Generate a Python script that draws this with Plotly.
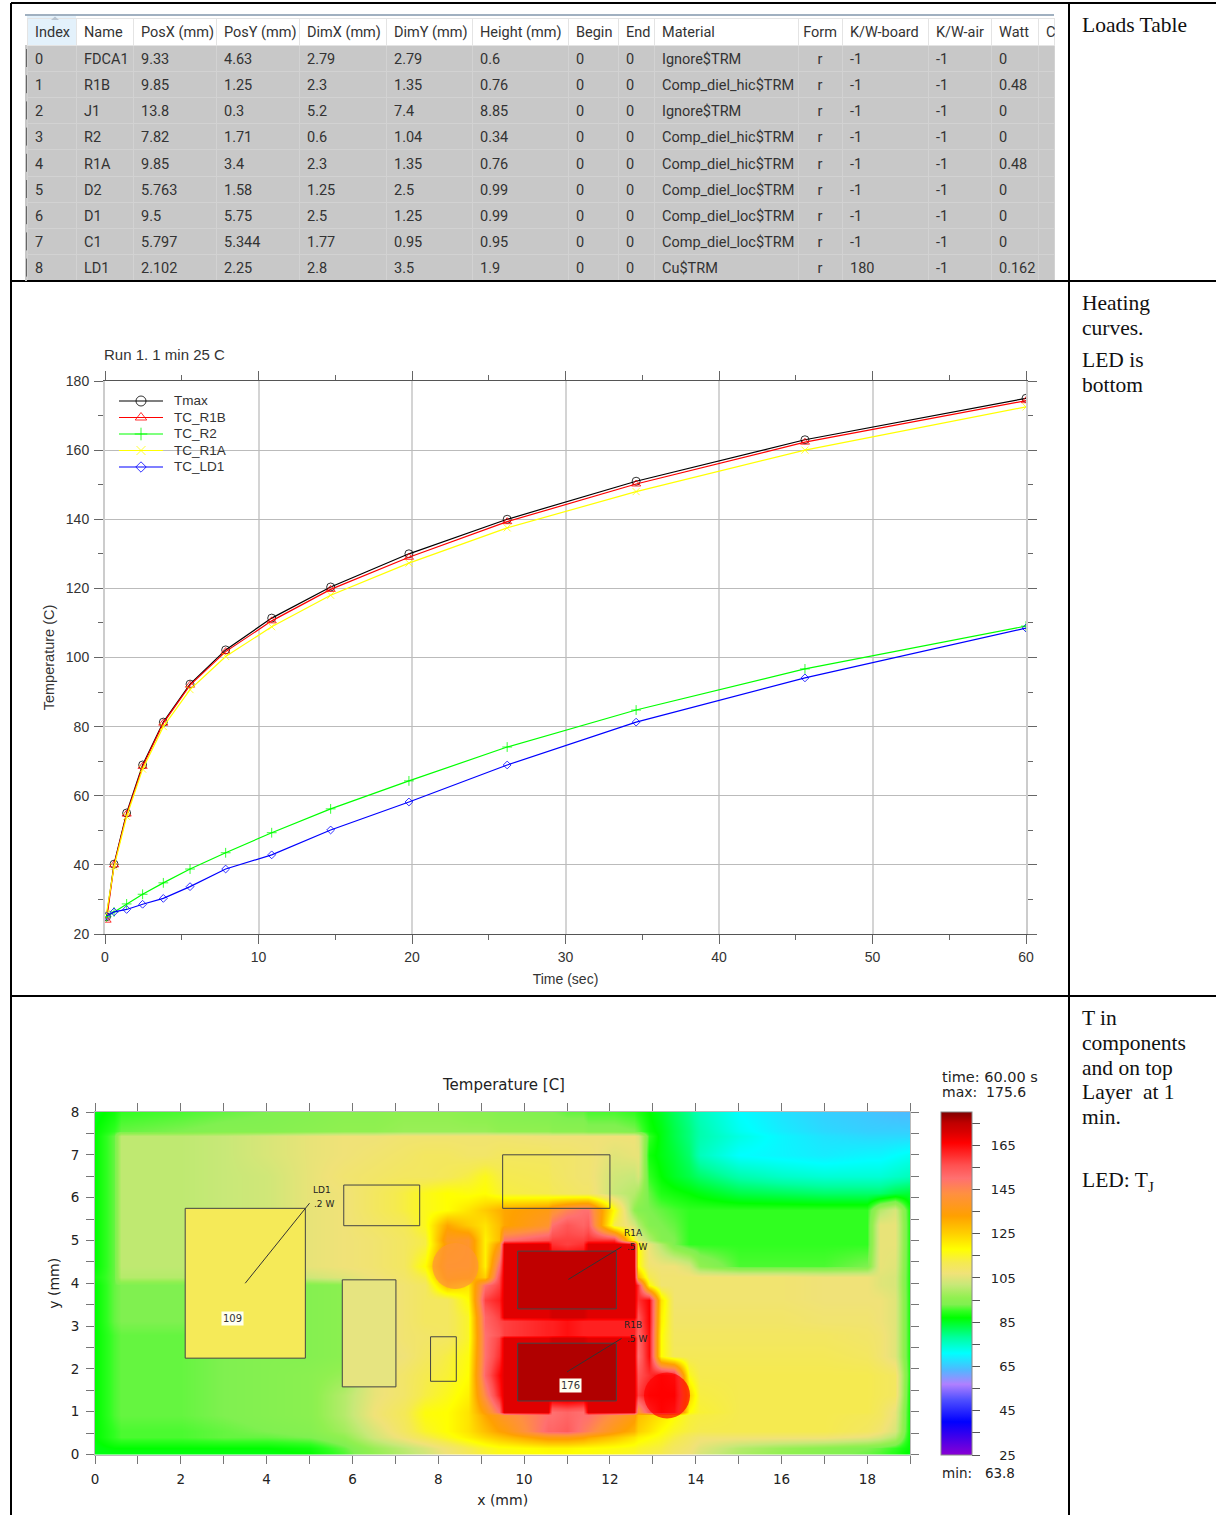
import plotly.graph_objects as go

W, H = 1216, 1515
SANS = "Liberation Sans"
WIDE = "DejaVu Sans"
SERIF = "Liberation Serif"
UI = "Roboto"

INDEX = [0, 1, 2, 3, 4, 5, 6, 7, 8]
NAME = ["FDCA1", "R1B", "J1", "R2", "R1A", "D2", "D1", "C1", "LD1"]
POSX = [9.33, 9.85, 13.8, 7.82, 9.85, 5.763, 9.5, 5.797, 2.102]
POSY = [4.63, 1.25, 0.3, 1.71, 3.4, 1.58, 5.75, 5.344, 2.25]
DIMX = [2.79, 2.3, 5.2, 0.6, 2.3, 1.25, 2.5, 1.77, 2.8]
DIMY = [2.79, 1.35, 7.4, 1.04, 1.35, 2.5, 1.25, 0.95, 3.5]
HEIGHT = [0.6, 0.76, 8.85, 0.34, 0.76, 0.99, 0.99, 0.95, 1.9]
BEGIN = [0] * 9
END = [0] * 9
MATERIAL = ["Ignore$TRM", "Comp_diel_hic$TRM", "Ignore$TRM", "Comp_diel_hic$TRM", "Comp_diel_hic$TRM",
            "Comp_diel_loc$TRM", "Comp_diel_loc$TRM", "Comp_diel_loc$TRM", "Cu$TRM"]
FORM = ["r"] * 9
KW_BOARD = [-1, -1, -1, -1, -1, -1, -1, -1, 180]
KW_AIR = [-1] * 9
WATT = [0, 0.48, 0, 0, 0.48, 0, 0, 0, 0.162]
HEADERS = ["Index", "Name", "PosX\u00a0(mm)", "PosY\u00a0(mm)", "DimX\u00a0(mm)", "DimY\u00a0(mm)", "Height\u00a0(mm)", "Begin", "End",
           "Material", "Form", "K/W-board", "K/W-air", "Watt", "C"]
COL_EDGES = [27, 76, 133, 216, 299, 386, 472, 568, 618, 654, 798, 842, 928, 991, 1038, 1054]

TIME = [0.1, 0.59, 1.41, 2.45, 3.8, 5.54, 7.86, 10.86, 14.7, 19.8, 26.2, 34.6, 45.6, 60.0]
TMAX = [25, 40.2, 55, 68.9, 81.3, 92.3, 102.2, 111.4, 120.4, 130, 140, 151, 163, 175]
TC_R1B = [24, 40, 54.7, 68.5, 81, 92, 101.7, 110.6, 119.7, 129, 139.3, 150.2, 162.3, 174.3]
TC_R2 = [25, 26.4, 28.7, 31.5, 34.8, 38.8, 43.5, 49.3, 56.2, 64.3, 74.1, 84.8, 96.7, 109.1]
TC_R1A = [26, 39.5, 54, 67.7, 80, 90.7, 100.3, 108.9, 118, 127.3, 137.5, 148, 160, 172.5]
TC_LD1 = [25.2, 26.4, 27.1, 28.6, 30.3, 33.7, 38.8, 42.9, 50.1, 58.2, 68.9, 81.3, 94.1, 108.5]

X_MM = [0, .45, .6, 2, 3, 4, 5, 5.8, 6.5, 7.2, 7.7, 8.2, 8.7, 9.1, 9.42, 9.52, 10.55, 10.65, 11, 11.38, 11.48, 12.1,
        12.55, 12.65, 12.9, 13.2, 13.5, 13.85, 14.1, 15, 16, 17, 18, 18.3, 18.65, 19]
Y_MM = [8, 7.55, 7.45, 7, 6.5, 6.1, 5.7, 5.35, 5, 4.92, 4.4, 4.15, 3.95, 3.6, 3.22, 3.12, 2.78, 2.72, 2.3, 1.85, 1.4,
        1.0, 0.92, 0.55, 0.4, 0.15, 0]
Z_TEMP = [
    [86,88,90,91,92,93,94,95,95,96,96,96,95,95,94,94,93,93,92,92,91,91,90,89,87,85,82,79,76,71,68,66,65,64.5,64,63.8],
    [87,90,92,93,94,94,95,96,96,97,97,97,97,97,96,96,96,95,95,95,94,94,93,92,88,86,83,80,77,72,69,67,66,66,66,66],
    [87,92,101,101,102,104,106,107,107,108,108,108,108,108,108,108,107,107,107,107,107,107,107,105,90,86,83,80,77,73,70,68,67,67,67,67],
    [87,92,101,101,102,104,106,107,108,109,110,110,109,109,110,110,110,109,109,108,108,105,106,106,88,86,84,81,76,71,70,69,70,70,71,72],
    [87,92,101,101,102,103,106,108,109,110,110,111,113,116,113,112,111,110,109,108,108,103,102,104,90,87,85,83,81,77,75,74,74,74,75,76],
    [87,92,101,101,102,103,106,107,110,113,116,118,117,118,115,113,112,111,110,109,109,102,100,98,92,89,88,87,86,83,82,81,81,81,83,84],
    [87,92,101,101,102,103,106,107,110,113,116,118,122,126,130,132,136,140,146,150,150,118,96,94,93,92,91,90,90,90,90,90,90,100,104,88],
    [87,92,101,101,102,103,106,107,109,111,116,132,126,122,128,132,140,150,155,152,154,112,104,100,94,93,92,90,90,90,90,90,90,106,106,88],
    [87,92,101,101,102,103,106,107,108,110,113,138,140,120,128,150,156,158,158,158,160,160,115,106,100,94,93,90,90,90,90,90,90,106,106,88],
    [87,92,101,101,102,103,106,107,108,110,113,136,140,120,135,170,170,160,158,160,170,170,170,118,106,100,93,90,90,90,90,90,90,106,106,88],
    [87,92,101,101,102,103,106,107,108,110,118,140,140,120,150,170,170,172,172,172,170,170,170,118,108,107,107,104,96,91,91,91,93,106,105,88],
    [88,92,100,100,102,102,103,105,107,109,113,136,134,125,156,170,170,172,172,172,170,170,170,130,112,108,108,108,108,108,108,107,107,105,104,88],
    [87,92,93,93,93,94,94,95,106,108,110,128,122,150,158,170,170,172,172,172,170,170,170,160,118,108,108,108,108,108,108,107,107,105,104,88],
    [87,92,93,93,93,94,94,95,105,108,110,110,118,158,162,170,170,172,172,172,170,170,170,160,166,122,108,108,108,108,108,107,107,107,105,88],
    [87,92,93,93,93,94,94,95,105,108,110,110,115,152,158,170,170,172,172,172,170,170,170,155,166,120,109,109,109,109,109,108,108,107,105,88],
    [87,92,93,93,93,94,94,95,105,108,110,110,115,152,157,158,162,162,164,162,162,162,162,155,166,120,109,109,109,109,109,108,108,107,105,88],
    [87,91,92,92,93,94,94,95,105,108,109,110,115,150,155,158,162,162,164,162,162,162,162,152,165,118,110,110,110,110,110,110,109,108,105,88],
    [87,91,92,92,93,94,94,95,105,108,109,110,115,150,158,170,170,172,172,172,170,170,170,152,165,118,110,110,110,110,110,110,109,108,105,88],
    [87,91,92,92,93,94,94,95,105,107,110,113,117,150,160,170,170,173,174,173,170,170,170,150,165,118,111,111,111,111,111,111,110,108,105,88],
    [87,91,92,92,93,94,95,97,106,109,112,114,118,152,165,170,170,173,174,173,170,170,170,155,160,165,162,116,112,112,112,112,112,111,110,88],
    [87,91,92,92,93,94,95,100,106,109,113,116,120,145,162,170,170,173,174,173,170,170,170,158,165,166,166,125,113,112,112,112,112,111,110,87],
    [87,91,92,92,93,94,95,100,107,111,117,118,122,135,150,170,170,150,152,150,170,170,170,140,155,165,160,118,114,112,112,112,112,110,106,87],
    [87,91,92,92,93,94,95,100,107,111,117,118,122,132,138,140,150,150,152,150,150,142,135,128,125,122,118,114,113,112,112,112,111,110,106,87],
    [87,90,91,91,92,93,94,98,104,110,115,118,122,128,133,134,152,152,154,148,146,136,130,125,122,118,115,113,112,112,112,112,110,108,104,87],
    [87,90,91,91,92,92,93,96,103,108,112,116,120,124,127,128,136,136,136,134,132,127,122,120,118,116,113,110,108,108,108,108,106,104,100,87],
    [86,87,87,87,87,87,88,92,97,101,104,108,112,115,117,117,119,119,119,118,118,117,116,115,114,113,110,108,105,100,97,95,93,92,90,87],
    [86,86,86,86,86,86,87,91,96,100,103,107,111,114,116,116,118,118,118,117,117,116,115,114,113,112,109,107,104,99,96,94,92,91,89,86],
]
assert all(len(r) == len(X_MM) for r in Z_TEMP) and len(Z_TEMP) == len(Y_MM), [len(r) for r in Z_TEMP]

CB_TEMPS = [25, 40, 50, 57, 63.5, 71, 78, 87, 90, 93, 96, 102, 107, 112, 118, 125, 133, 143, 150, 156, 162, 166, 171, 175, 180]
CB_COLORS = ["#8a00d4", "#0000ff", "#5050ff", "#b080ff", "#50b8ff", "#00ffff", "#00ffa0", "#00ff00", "#30ff20", "#80f050",
             "#90f050", "#c8e878", "#f0e278", "#f5ea50", "#ffff00", "#ffd000", "#ffa000", "#ff9040", "#ff7070", "#ff5050",
             "#ff2020", "#ff0000", "#d80000", "#c00000", "#800000"]
CB_VALS = [25, 35, 45, 55, 65, 75, 85, 95, 105, 115, 125, 135, 145, 155, 165, 175]
CB_TEXT = ["25", "", "45", "", "65", "", "85", "", "105", "", "125", "", "145", "", "165", ""]

RECT_FILL = {"LD1": "#f5ea58", "D2": "#e6e480", "C1": None, "R2": None, "D1": None, "R1A": "#c00000", "R1B": "#b00000"}
CALLOUTS = [("LD1", [3.5, 5.0], [4.0, 5.87]), ("R1A", [11.03, 12.27], [4.09, 4.85]), ("R1B", [11.0, 12.27], [1.93, 2.71])]
# round hot spots of the map: via on the right of R1B, and the orange blob left of R1A
SPOT_X = [13.33, 8.4]
SPOT_Y = [1.38, 4.4]
SPOT_COLOR = ["#ff0000", "#ff9438"]
SPOT_SIZE = [46, 46]


def px(v):
    return v / W


def py(v):
    return 1 - v / H


fig = go.Figure()

cols = [INDEX, NAME, POSX, POSY, DIMX, DIMY, HEIGHT, BEGIN, END, MATERIAL, FORM, KW_BOARD, KW_AIR, WATT, [""] * 9]
widths = [b - a for a, b in zip(COL_EDGES, COL_EDGES[1:])]
hdr_fill = ["#e3f1fb"] + ["#ffffff"] * 14
aligns = ["left"] * 10 + ["center"] + ["left"] * 4
fig.add_trace(go.Table(
    domain=dict(x=[px(COL_EDGES[0]), px(COL_EDGES[-1])], y=[py(282), py(18)]),
    columnwidth=widths,
    columnorder=list(range(15)),
    header=dict(values=HEADERS, height=27, align=aligns, fill_color=hdr_fill,
                line=dict(color="#e4e4e4", width=1), font=dict(family=UI, size=14.5, color="#333333")),
    cells=dict(values=[[str(v) for v in c] for c in cols], height=26.2, align=aligns,
               fill_color="#c8c8c8", line=dict(color="#d2d2d2", width=1),
               font=dict(family=UI, size=14.5, color="#333333")),
))

SERIES = [("Tmax", TMAX, "#000000", "circle-open", 8), ("TC_R1B", TC_R1B, "#ff0000", "triangle-up-open", 8),
          ("TC_R2", TC_R2, "#00ff00", "cross-thin-open", 7), ("TC_R1A", TC_R1A, "#ffff00", "x-thin-open", 7),
          ("TC_LD1", TC_LD1, "#0000ff", "diamond-open", 6)]
for name, ys, color, sym, size in SERIES:
    fig.add_trace(go.Scatter(x=TIME, y=ys, name=name, mode="lines+markers", xaxis="x", yaxis="y", showlegend=False,
                             line=dict(color=color, width=1.2),
                             marker=dict(symbol=sym, size=size, color=color, line=dict(color=color, width=0.8))))

for i, (name, ys, color, sym, size) in enumerate(SERIES):
    yy = 401 + i * 16.5
    fig.add_trace(go.Scatter(x=[119, 141, 163], y=[yy] * 3, mode="lines", xaxis="x3", yaxis="y3", showlegend=False,
                             hoverinfo="skip", line=dict(color=color, width=1.2)))
    fig.add_trace(go.Scatter(x=[141], y=[yy], mode="markers", xaxis="x3", yaxis="y3", showlegend=False,
                             hoverinfo="skip", marker=dict(symbol=sym, size=size + 2, color=color, line=dict(color=color, width=0.8))))

fig.add_trace(go.Heatmap(
    x=X_MM, y=Y_MM[::-1], z=Z_TEMP[::-1], xaxis="x2", yaxis="y2", zsmooth="best", zmin=25, zmax=180,
    colorscale=[[(t - 25) / 155, c] for t, c in zip(CB_TEMPS, CB_COLORS)],
    colorbar=dict(x=px(941), xanchor="left", xpad=0, y=py(1455), yanchor="bottom", ypad=0, thicknessmode="pixels",
                  thickness=31, lenmode="pixels", len=343, tickmode="array", tickvals=CB_VALS,
                  ticktext=[("\u2007" * (4 - len(t)) + t if t else t) for t in CB_TEXT], ticks="outside", ticklen=8,
                  tickcolor="#555555", outlinecolor="#888888", outlinewidth=1,
                  tickfont=dict(family=WIDE, size=13, color="#222222")),
))
fig.add_trace(go.Scatter(x=SPOT_X, y=SPOT_Y, mode="markers", xaxis="x2", yaxis="y2", showlegend=False, hoverinfo="skip",
                         marker=dict(size=SPOT_SIZE, color=SPOT_COLOR, line=dict(width=0))))
for name, fill in RECT_FILL.items():
    i = NAME.index(name)
    x0, y0, x1, y1 = POSX[i], POSY[i], POSX[i] + DIMX[i], POSY[i] + DIMY[i]
    fig.add_trace(go.Scatter(x=[x0, x1, x1, x0, x0], y=[y0, y0, y1, y1, y0], mode="lines", xaxis="x2", yaxis="y2",
                             showlegend=False, hoverinfo="skip", line=dict(color="#444444", width=1),
                             fill="toself" if fill else "none", fillcolor=fill))
for name, xs, ys in CALLOUTS:
    fig.add_trace(go.Scatter(x=xs, y=ys, mode="lines", xaxis="x2", yaxis="y2", showlegend=False, hoverinfo="skip",
                             line=dict(color="#333333", width=1)))

axis_font = dict(family=SANS, size=14, color="#333333")
heat_font = dict(family=WIDE, size=13.5, color="#222222")
fig.update_layout(
    width=W, height=H, margin=dict(l=0, r=0, t=0, b=0, pad=0, autoexpand=False), paper_bgcolor="white",
    plot_bgcolor="rgba(0,0,0,0)", showlegend=False,
    xaxis=dict(domain=[px(105), px(1026)], range=[0, 60], anchor="y", dtick=10, tick0=0, ticks="outside", ticklen=9,
               tickcolor="#666666", showgrid=True, gridcolor="#d4d4d4", gridwidth=1.5, zeroline=False, showline=True,
               linecolor="#555555", mirror="ticks", tickfont=axis_font, ticklabelstandoff=1,
               minor=dict(dtick=5, ticks="outside", ticklen=5, tickcolor="#666666", showgrid=False),
               title=dict(text="Time (sec)", font=axis_font, standoff=10)),
    yaxis=dict(domain=[py(934), py(381)], range=[20, 180], anchor="x", dtick=20, tick0=20, ticks="outside", ticklen=9,
               tickcolor="#666666", showgrid=True, gridcolor="#bbbbbb", gridwidth=1, zeroline=False, showline=True,
               linecolor="#cccccc", linewidth=2, mirror="ticks", tickfont=axis_font, ticklabelstandoff=2,
               minor=dict(dtick=10, ticks="outside", ticklen=5, tickcolor="#666666", showgrid=False),
               title=dict(text="Temperature (C)", font=dict(family=SANS, size=14.5, color="#333333"), standoff=8)),
    xaxis2=dict(domain=[px(95), px(910.3)], range=[0, 19], anchor="y2", dtick=2, tick0=0, ticks="outside", ticklen=8,
                tickcolor="#777777", showgrid=False, zeroline=False, showline=True, linecolor="#bbbbbb",
                mirror="ticks", tickfont=heat_font, ticklabelstandoff=4,
                minor=dict(dtick=1, ticks="outside", ticklen=8, tickcolor="#777777", showgrid=False),
                title=dict(text="x (mm)", font=dict(family=WIDE, size=14, color="#222222"), standoff=9)),
    yaxis2=dict(domain=[py(1454.5), py(1112)], range=[0, 8], anchor="x2", dtick=1, tick0=0, ticks="outside", ticklen=8,
                tickcolor="#777777", showgrid=False, zeroline=False, showline=True, linecolor="#bbbbbb",
                mirror="ticks", tickfont=heat_font, ticklabelstandoff=4,
                minor=dict(dtick=0.5, ticks="outside", ticklen=8, tickcolor="#777777", showgrid=False),
                title=dict(text="y (mm)", font=dict(family=WIDE, size=14, color="#222222"), standoff=7)),
    xaxis3=dict(domain=[0, 1], range=[0, W], visible=False, anchor="y3"),
    yaxis3=dict(domain=[0, 1], range=[H, 0], visible=False, anchor="x3"),
)

FRAME = [(11, 3, 1216, 3), (11, 3, 11, 1515), (1069, 3, 1069, 1515), (11, 281, 1216, 281), (11, 996, 1216, 996)]
for x0, y0, x1, y1 in FRAME:
    fig.add_shape(type="line", xref="paper", yref="paper", x0=px(x0), x1=px(x1), y0=py(y0), y1=py(y1),
                  line=dict(color="black", width=2))
fig.add_shape(type="rect", xref="paper", yref="paper", x0=px(27), x1=px(76), y0=py(18), y1=py(15),
              fillcolor="#e3f1fb", line=dict(width=0))
fig.add_shape(type="line", xref="paper", yref="paper", x0=px(25), x1=px(1054), y0=py(15), y1=py(15),
              line=dict(color="#a0b0c0", width=2))
fig.add_shape(type="rect", xref="paper", yref="paper", x0=px(25), x1=px(27), y0=py(281), y1=py(45),
              fillcolor="#c8c8c8", line=dict(width=0))
for r in INDEX:
    top = 45 + 26.2 * r
    fig.add_shape(type="line", xref="paper", yref="paper", x0=px(26.5), x1=px(26.5), y0=py(top + 4), y1=py(top + 22),
                  line=dict(color="#666666", width=1))
fig.add_shape(type="path", xref="paper", yref="paper",
              path=f"M {px(51)} {py(20)} L {px(59)} {py(20)} L {px(55)} {py(16.5)} Z", fillcolor="#b8c4d0", line=dict(width=0))


def note(text, x, y, size=14, family=SANS, color="#333333", anchor="left", **kw):
    nudge = 2 if anchor == "left" else 0
    fig.add_annotation(text=text, xref="paper", yref="paper", x=px(x - nudge), y=py(y), showarrow=False, xanchor=anchor,
                       yanchor="middle", font=dict(family=family, size=size, color=color), **kw)


SIDE_NOTES = [("Loads Table", 25), ("Heating", 303), ("curves.", 328), ("LED is", 360), ("bottom", 385), ("T in", 1018),
              ("components", 1043), ("and on top", 1068), ("Layer  at 1", 1092), ("min.", 1117),
              ("LED: T<sub>J</sub>", 1181)]
for text, y in SIDE_NOTES:
    note(text, 1082, y, size=21.5, family=SERIF, color="#111111")

note("Run 1. 1 min 25 C", 104, 354, size=15)
for i, (name, *_rest) in enumerate(SERIES):
    note(name, 174, 401 + i * 16.5, size=13.5)

note("Temperature [C]", 503, 1085, size=15, family=WIDE, color="#222222", anchor="center")
note("time: 60.00 s", 942, 1077, size=14.5, family=WIDE, color="#222222")
note("max:  175.6", 942, 1092, size=14, family=WIDE, color="#222222")
note("min:   63.8", 942, 1473, size=13.5, family=WIDE, color="#222222")
for text, x, y in [("LD1", 313, 1190), (".2 W", 314, 1204), ("R1A", 624, 1233), (".5 W", 627, 1247), ("R1B", 624, 1325),
                   (".5 W", 627, 1339)]:
    note(text, x, y, size=9, family=WIDE, color="#222222")
note("109", 232, 1318, size=10, family=WIDE, anchor="center", bgcolor="#fffff0", borderpad=1)
note("176", 570, 1385, size=10, family=WIDE, anchor="center", bgcolor="#fffff0", borderpad=1)

fig.write_html("out.html", config=dict(displayModeBar=False, responsive=False),
               post_script="document.body.style.margin='0';document.documentElement.style.overflow='hidden';")
